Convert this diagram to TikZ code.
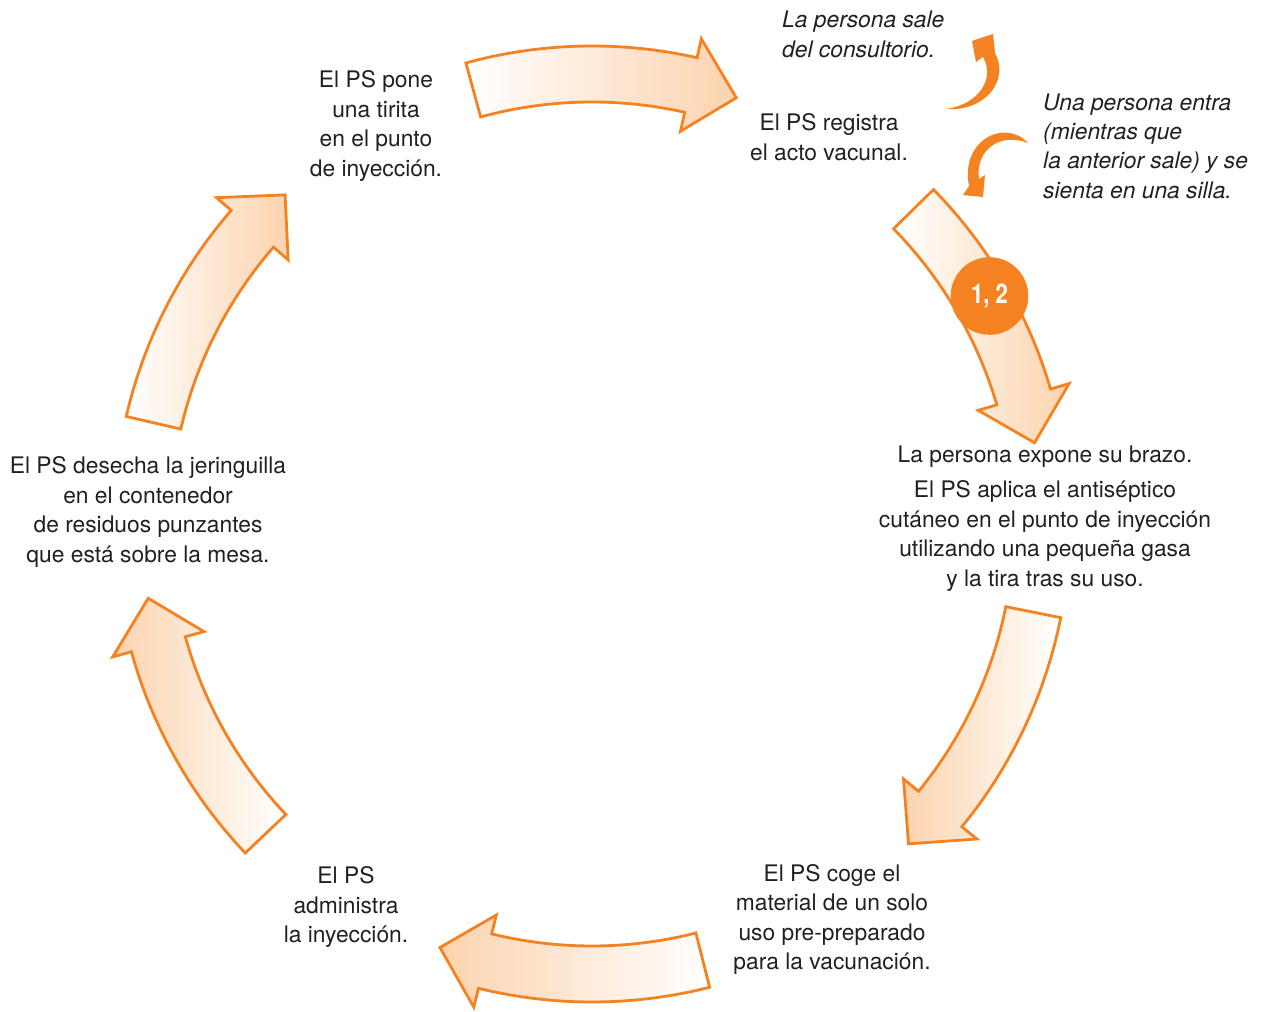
\documentclass[tikz,border=0pt]{standalone}
\usepackage{fontspec}
\setmainfont{TeX Gyre Heros}
\usepackage{graphicx}
\definecolor{vorange}{HTML}{F58220}
\definecolor{vpeach}{HTML}{FCD3AE}
\definecolor{vtext}{HTML}{231F20}
\tikzset{
  cyc/.style={draw=vorange, line width=2.8pt, line join=miter},
  lbl/.style={align=center, text=vtext, inner sep=0pt, font=\fontsize{22.8}{29.4}\selectfont},
  note/.style={lbl, align=left, font=\fontsize{22.8}{29.4}\selectfont\itshape},
  badge/.style={circle, fill=vorange, minimum size=77.6pt, inner sep=0pt, text=white,
    font=\fontsize{27}{27}\selectfont\bfseries},
}
\begin{document}
\begin{tikzpicture}[x=1pt, y=1pt, line join=round]
  \useasboundingbox (0,0) rectangle (1261,1012);
  \def\ro{478pt} \def\ri{422pt} \def\rm{450pt}
  \def\hro{497.4pt} \def\hri{402.6pt}
  % block arrows round the cycle
  \begin{scope}[shift={(592,488)}]
    \foreach \a/\lc/\rc in {105.3/white/vpeach, 44.4/white/vpeach, -11.3/vpeach/white,
                            -75.75/vpeach/white, -136.5/vpeach/white, 167/white/vpeach}
      \draw[cyc, left color=\lc, right color=\rc] (\a:\ro) arc[start angle=\a, end angle=\a-28, radius=\ro]
        -- (\a-28:\hro) -- (\a-34:\rm) -- (\a-28:\hri) -- (\a-28:\ri)
        arc[start angle=\a-28, end angle=\a, radius=\ri] -- cycle;
  \end{scope}
  % small arrows: leaving and entering
  \fill[vorange] (946,903) .. controls (985,900) and (1010,932) .. (995,959) -- (993,978) -- (972,971)
    -- (976,950) -- (983,955) .. controls (995,934) and (980,908) .. (946,903) -- cycle;
  \fill[vorange] (1028,869) .. controls (1005,894) and (960,872) .. (969,826) -- (963,817) -- (983,815)
    -- (985,837) -- (979,833) .. controls (975,862) and (1000,880) .. (1028,869) -- cycle;
  \node[badge] (step12) at (989.5,716) {\scalebox{0.82}[1]{1, 2}};
  % labels
  \node[lbl] (tirita) at (376,886) {El PS pone\\una tirita\\en el punto\\de inyección.};
  \node[lbl] (registra) at (829,875) {El PS registra\\el acto vacunal.};
  \node[note, anchor=west] (sale) at (782,977.5) {La persona sale\\del consultorio.};
  \node[note, anchor=west] (entra) at (1043,866) {Una persona entra\\(mientras que\\la anterior sale) y se\\sienta en una silla.};
  \node[lbl] (brazo) at (1045,555) {La persona expone su brazo.};
  \node[lbl] (antiseptico) at (1045,476) {El PS aplica el antiséptico\\cutáneo en el punto de inyección\\utilizando una pequeña gasa\\y la tira tras su uso.};
  \node[lbl] (coge) at (832,92.5) {El PS coge el\\material de un solo\\uso pre-preparado\\para la vacunación.};
  \node[lbl] (administra) at (346,105) {El PS\\administra\\la inyección.};
  \node[lbl] (desecha) at (148,500) {El PS desecha la jeringuilla\\en el contenedor\\de residuos punzantes\\que está sobre la mesa.};
\end{tikzpicture}
\end{document}
